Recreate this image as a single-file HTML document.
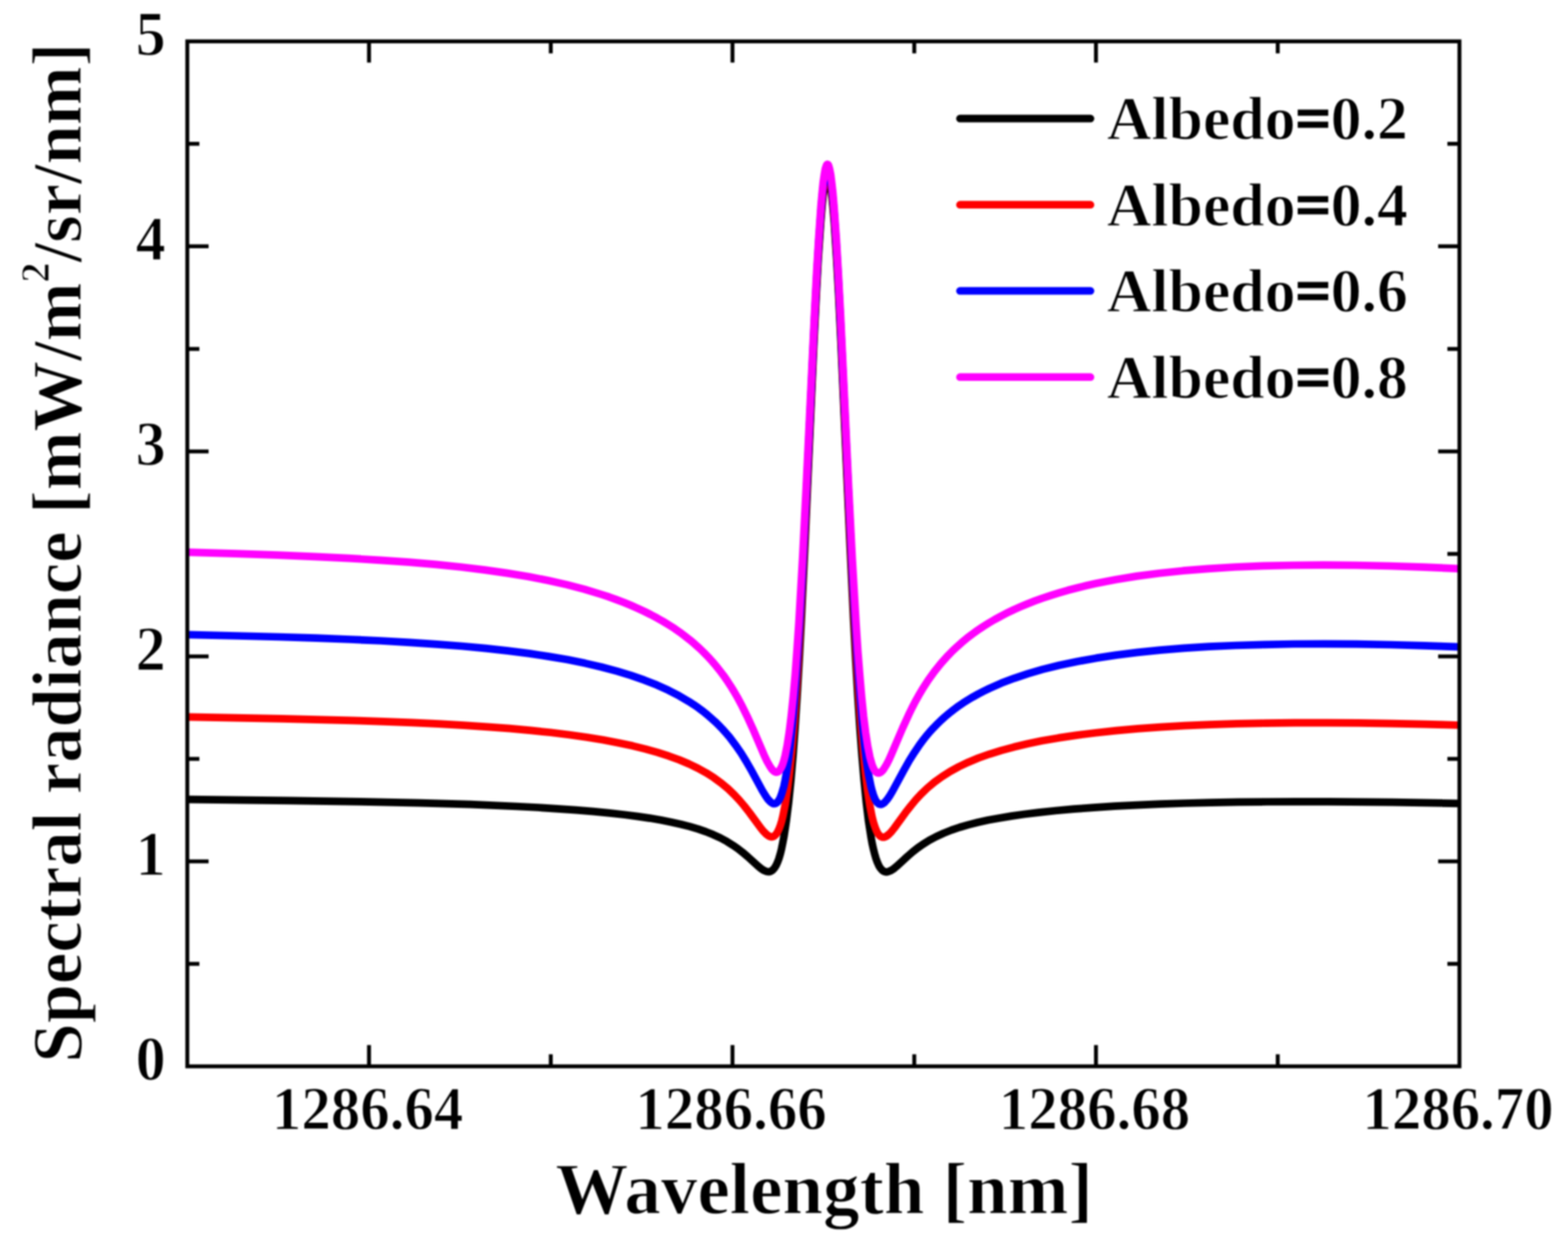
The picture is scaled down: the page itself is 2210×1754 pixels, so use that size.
<!DOCTYPE html>
<html><head><meta charset="utf-8"><title>Spectral radiance vs wavelength</title>
<style>html,body{margin:0;padding:0;background:#fff;overflow:hidden}svg{display:block;filter:blur(0.9px)}</style>
</head><body>
<svg width="2210" height="1754" viewBox="0 0 2210 1754"><rect width="2210" height="1754" fill="#fff"/><path d="M520.1 1503.5V1473.5M520.1 58.3V88.3M776.3 1503.5V1486.5M776.3 58.3V75.3M1032.4 1503.5V1473.5M1032.4 58.3V88.3M1288.6 1503.5V1486.5M1288.6 58.3V75.3M1544.7 1503.5V1473.5M1544.7 58.3V88.3M1800.9 1503.5V1486.5M1800.9 58.3V75.3M264.0 1359.0H281.0M2057.0 1359.0H2040.0M264.0 1214.5H294.0M2057.0 1214.5H2027.0M264.0 1069.9H281.0M2057.0 1069.9H2040.0M264.0 925.4H294.0M2057.0 925.4H2027.0M264.0 780.9H281.0M2057.0 780.9H2040.0M264.0 636.4H294.0M2057.0 636.4H2027.0M264.0 491.9H281.0M2057.0 491.9H2040.0M264.0 347.3H294.0M2057.0 347.3H2027.0M264.0 202.8H281.0M2057.0 202.8H2040.0" stroke="#000" stroke-width="5.5" fill="none"/><path d="M264.0 1127.1 L409.8 1128.8 L508.2 1130.3 L591.8 1132.1 L663.0 1134.2 L728.2 1137.0 L758.0 1138.5 L785.8 1140.3 L811.8 1142.1 L836.2 1144.2 L859.2 1146.4 L880.5 1148.8 L898.8 1151.1 L915.8 1153.6 L931.5 1156.3 L946.2 1159.2 L959.8 1162.2 L972.2 1165.4 L984.0 1168.9 L994.8 1172.6 L1005.2 1176.8 L1015.2 1181.4 L1024.5 1186.4 L1033.2 1191.9 L1040.0 1196.6 L1046.5 1201.7 L1053.8 1207.9 L1068.8 1221.5 L1072.8 1224.7 L1076.2 1227.0 L1080.0 1228.6 L1081.8 1229.0 L1083.5 1229.1 L1085.0 1228.9 L1086.5 1228.4 L1088.0 1227.5 L1089.5 1226.3 L1091.8 1223.6 L1093.8 1220.3 L1095.8 1216.0 L1097.8 1210.6 L1099.8 1203.9 L1101.5 1196.9 L1103.2 1188.7 L1105.0 1179.2 L1108.2 1158.0 L1111.5 1131.6 L1114.8 1099.3 L1117.8 1064.0 L1120.5 1026.8 L1123.5 980.9 L1126.5 929.4 L1129.5 872.8 L1135.0 757.7 L1147.2 482.4 L1150.5 416.3 L1153.2 366.4 L1156.8 313.5 L1158.5 292.3 L1160.0 277.3 L1161.8 263.6 L1163.2 255.3 L1164.8 250.2 L1165.5 249.0 L1166.2 248.5 L1167.0 248.9 L1167.8 250.1 L1169.2 255.1 L1170.8 263.3 L1172.5 276.9 L1174.0 291.9 L1175.8 313.0 L1179.2 365.7 L1182.0 415.6 L1185.2 481.6 L1197.5 757.1 L1203.0 872.4 L1206.0 929.2 L1209.0 980.7 L1212.0 1026.8 L1214.8 1064.1 L1217.8 1099.4 L1221.0 1131.8 L1224.2 1158.3 L1227.5 1179.5 L1229.2 1189.0 L1231.0 1197.2 L1232.8 1204.2 L1234.5 1210.1 L1236.5 1215.7 L1238.5 1220.2 L1240.5 1223.6 L1242.8 1226.3 L1244.2 1227.6 L1245.8 1228.5 L1247.2 1229.1 L1248.8 1229.4 L1250.5 1229.3 L1252.2 1228.9 L1256.0 1227.3 L1259.5 1225.0 L1263.5 1221.7 L1279.0 1207.5 L1286.5 1201.0 L1293.5 1195.5 L1300.5 1190.6 L1309.8 1184.8 L1319.5 1179.6 L1329.8 1174.9 L1341.0 1170.4 L1352.5 1166.5 L1365.0 1162.9 L1378.2 1159.5 L1392.8 1156.3 L1408.5 1153.4 L1425.5 1150.6 L1443.8 1148.0 L1463.5 1145.6 L1487.8 1143.0 L1513.8 1140.7 L1541.5 1138.6 L1571.0 1136.7 L1602.2 1135.1 L1635.2 1133.7 L1670.0 1132.5 L1706.8 1131.6 L1745.5 1130.9 L1785.8 1130.5 L1827.8 1130.3 L1871.5 1130.3 L1962.5 1131.1 L2057.0 1132.8" fill="none" stroke="#000000" stroke-width="10.7" stroke-linejoin="round"/>
<path d="M264.0 1010.9 L397.0 1013.4 L496.8 1015.9 L540.8 1017.3 L581.0 1018.9 L618.5 1020.7 L653.5 1022.6 L687.0 1024.8 L718.5 1027.2 L748.2 1029.9 L776.0 1032.8 L802.2 1036.0 L827.0 1039.5 L850.2 1043.3 L872.0 1047.4 L891.5 1051.6 L909.8 1056.1 L926.8 1060.9 L942.5 1065.9 L957.2 1071.3 L970.8 1077.0 L983.5 1083.1 L995.2 1089.6 L1006.2 1096.6 L1016.5 1104.1 L1026.2 1112.2 L1035.2 1120.9 L1042.2 1128.4 L1049.0 1136.4 L1056.5 1146.0 L1072.0 1167.2 L1076.2 1172.3 L1079.8 1175.9 L1083.2 1178.5 L1085.0 1179.4 L1086.5 1179.8 L1088.0 1179.9 L1089.5 1179.6 L1091.0 1178.9 L1092.2 1178.0 L1094.2 1175.8 L1096.2 1172.6 L1098.2 1168.3 L1100.0 1163.4 L1101.8 1157.5 L1103.5 1150.5 L1106.8 1133.9 L1110.0 1112.4 L1113.0 1087.6 L1116.0 1057.7 L1119.0 1022.4 L1121.8 985.0 L1124.5 943.0 L1127.2 896.3 L1130.0 845.3 L1135.5 732.5 L1147.5 468.4 L1150.8 403.8 L1153.5 355.2 L1156.8 307.1 L1158.5 286.2 L1160.0 271.3 L1161.8 257.8 L1163.2 249.6 L1164.8 244.6 L1165.5 243.3 L1166.2 242.9 L1167.0 243.3 L1167.8 244.5 L1169.2 249.4 L1170.8 257.5 L1172.5 271.0 L1174.0 285.8 L1175.8 306.6 L1179.0 354.6 L1181.8 403.2 L1185.0 467.8 L1197.2 737.5 L1202.5 845.2 L1205.5 900.8 L1208.2 947.1 L1211.0 988.8 L1213.8 1025.8 L1216.8 1060.8 L1219.8 1090.3 L1222.8 1114.8 L1226.0 1135.9 L1229.2 1152.2 L1231.0 1159.1 L1232.8 1164.8 L1234.5 1169.5 L1236.2 1173.3 L1238.2 1176.5 L1240.2 1178.6 L1241.5 1179.5 L1243.0 1180.2 L1244.5 1180.5 L1246.0 1180.4 L1247.5 1179.9 L1249.2 1179.1 L1252.8 1176.4 L1256.2 1172.8 L1260.5 1167.5 L1276.2 1145.8 L1283.8 1136.1 L1290.8 1127.7 L1298.0 1119.9 L1307.2 1111.0 L1317.2 1102.6 L1327.8 1095.0 L1339.2 1087.7 L1351.5 1081.0 L1364.8 1074.7 L1379.0 1068.8 L1394.5 1063.3 L1411.2 1058.1 L1429.0 1053.3 L1448.0 1048.8 L1468.2 1044.6 L1492.0 1040.4 L1517.5 1036.6 L1544.5 1033.2 L1573.2 1030.1 L1603.8 1027.4 L1635.8 1025.1 L1669.8 1023.2 L1705.5 1021.6 L1743.5 1020.4 L1783.5 1019.6 L1825.2 1019.1 L1868.8 1019.1 L1914.0 1019.4 L1960.5 1020.1 L2008.2 1021.1 L2057.0 1022.5" fill="none" stroke="#ff0000" stroke-width="10.7" stroke-linejoin="round"/>
<path d="M264.0 894.8 L334.0 896.5 L393.0 898.0 L445.5 899.7 L493.0 901.5 L537.0 903.5 L577.8 905.8 L615.5 908.3 L650.8 911.0 L684.5 914.2 L716.0 917.6 L745.8 921.4 L773.5 925.6 L799.8 930.1 L824.5 935.1 L847.8 940.5 L869.8 946.4 L889.5 952.4 L908.2 958.9 L925.8 965.8 L942.0 973.2 L957.2 981.1 L971.2 989.3 L978.0 993.7 L984.5 998.2 L990.8 1002.9 L996.8 1007.7 L1007.8 1017.4 L1013.0 1022.5 L1018.2 1027.9 L1023.2 1033.5 L1028.0 1039.1 L1037.2 1051.2 L1044.5 1061.8 L1051.5 1073.1 L1059.0 1086.2 L1074.5 1114.7 L1078.8 1121.7 L1082.2 1126.7 L1085.8 1130.5 L1087.2 1131.7 L1088.8 1132.6 L1090.2 1133.1 L1091.8 1133.2 L1093.2 1132.8 L1094.5 1132.1 L1096.2 1130.5 L1098.0 1128.0 L1099.8 1124.5 L1101.5 1120.0 L1103.2 1114.4 L1104.8 1108.6 L1106.5 1100.6 L1108.0 1092.6 L1111.0 1073.3 L1114.0 1049.1 L1117.0 1019.7 L1119.8 987.9 L1122.5 951.3 L1125.2 909.9 L1128.0 863.9 L1130.8 813.7 L1136.0 707.7 L1147.5 459.7 L1150.8 396.0 L1153.5 348.1 L1156.8 300.7 L1158.5 280.0 L1160.0 265.4 L1161.8 252.0 L1163.2 243.9 L1164.8 238.9 L1165.5 237.7 L1166.2 237.3 L1167.0 237.7 L1167.8 238.9 L1169.2 243.7 L1170.8 251.8 L1172.5 265.1 L1174.0 279.7 L1175.8 300.3 L1179.0 347.7 L1181.8 395.6 L1185.0 459.2 L1196.8 712.8 L1202.0 818.5 L1204.8 868.5 L1207.5 914.2 L1210.2 955.3 L1212.8 988.4 L1215.5 1020.4 L1218.5 1049.9 L1221.2 1072.3 L1224.2 1092.1 L1227.5 1108.5 L1229.0 1114.4 L1230.8 1120.2 L1232.5 1124.9 L1234.2 1128.5 L1236.0 1131.1 L1237.8 1132.9 L1239.0 1133.7 L1240.5 1134.1 L1242.0 1134.1 L1243.5 1133.6 L1245.0 1132.8 L1246.5 1131.7 L1250.0 1127.8 L1253.5 1122.9 L1257.8 1115.8 L1273.8 1086.2 L1281.5 1072.5 L1288.8 1060.9 L1296.0 1050.2 L1300.8 1043.8 L1305.5 1037.8 L1310.5 1031.9 L1315.5 1026.4 L1320.8 1021.0 L1326.2 1015.7 L1332.0 1010.5 L1337.8 1005.6 L1344.0 1000.7 L1350.5 995.9 L1357.2 991.3 L1364.0 987.0 L1371.2 982.7 L1378.8 978.5 L1386.5 974.5 L1394.5 970.6 L1411.5 963.1 L1429.5 956.3 L1448.8 949.9 L1469.2 943.9 L1493.0 938.0 L1518.2 932.7 L1545.0 927.9 L1573.2 923.6 L1603.2 919.9 L1635.0 916.6 L1668.5 913.9 L1704.0 911.7 L1742.0 910.0 L1781.8 908.8 L1823.5 908.0 L1867.0 907.9 L1912.2 908.2 L1959.2 909.0 L2007.5 910.4 L2057.0 912.2" fill="none" stroke="#0000ff" stroke-width="10.7" stroke-linejoin="round"/>
<path d="M264.0 778.7 L332.5 780.7 L391.2 782.7 L443.8 784.8 L491.5 787.2 L535.8 789.8 L576.5 792.7 L614.5 795.9 L649.8 799.5 L683.5 803.6 L715.0 808.1 L744.8 813.0 L772.8 818.5 L799.0 824.4 L823.8 830.9 L847.2 838.0 L858.5 841.7 L869.2 845.6 L879.5 849.5 L889.2 853.5 L899.0 857.8 L908.2 862.1 L917.2 866.6 L926.0 871.3 L934.5 876.1 L942.5 881.0 L950.5 886.1 L958.0 891.3 L965.2 896.7 L972.2 902.2 L979.0 907.9 L985.8 914.0 L992.0 920.0 L998.2 926.4 L1003.8 932.5 L1009.2 938.9 L1014.5 945.5 L1019.8 952.4 L1024.8 959.6 L1029.5 966.8 L1034.2 974.4 L1039.0 982.6 L1046.2 996.1 L1053.2 1010.3 L1060.8 1026.9 L1077.0 1064.7 L1081.2 1073.6 L1084.8 1079.9 L1088.2 1084.9 L1089.8 1086.5 L1091.2 1087.7 L1092.8 1088.5 L1094.0 1088.8 L1095.5 1088.6 L1096.8 1088.1 L1098.5 1086.5 L1100.2 1084.0 L1102.0 1080.5 L1103.5 1076.5 L1105.0 1071.7 L1106.5 1065.9 L1109.5 1051.0 L1112.5 1031.6 L1115.2 1009.4 L1118.0 982.6 L1120.8 951.1 L1123.2 918.3 L1126.0 877.6 L1131.2 787.3 L1136.2 688.6 L1147.8 445.9 L1151.0 383.8 L1153.8 337.1 L1157.0 291.2 L1158.8 271.3 L1160.2 257.3 L1161.8 246.2 L1163.2 238.2 L1164.8 233.3 L1165.5 232.1 L1166.2 231.7 L1167.0 232.0 L1167.8 233.2 L1169.2 238.0 L1170.8 246.0 L1172.2 257.0 L1173.8 271.0 L1175.5 290.8 L1178.8 336.7 L1181.5 383.4 L1184.8 445.6 L1196.2 688.7 L1201.2 787.6 L1206.5 878.2 L1209.2 919.0 L1211.8 951.9 L1214.5 983.5 L1217.2 1010.4 L1220.0 1032.7 L1223.0 1052.2 L1226.0 1067.1 L1227.5 1072.9 L1229.0 1077.8 L1230.5 1081.8 L1232.2 1085.3 L1234.0 1087.8 L1235.8 1089.3 L1237.2 1089.9 L1238.8 1090.0 L1240.2 1089.5 L1242.0 1088.4 L1243.8 1086.7 L1245.5 1084.5 L1249.5 1078.0 L1252.8 1071.6 L1256.2 1064.0 L1272.2 1026.5 L1280.8 1007.7 L1285.5 998.0 L1290.2 988.9 L1295.0 980.3 L1299.8 972.2 L1308.0 959.3 L1316.8 947.1 L1326.0 935.6 L1335.8 924.7 L1342.2 918.1 L1348.8 911.9 L1355.5 905.9 L1362.5 900.1 L1369.8 894.5 L1377.5 888.9 L1385.2 883.7 L1393.5 878.5 L1402.0 873.5 L1410.8 868.7 L1419.8 864.1 L1429.0 859.6 L1438.5 855.4 L1448.5 851.2 L1458.5 847.3 L1469.0 843.5 L1480.8 839.6 L1492.8 835.9 L1505.0 832.3 L1517.8 829.0 L1530.8 825.8 L1544.2 822.8 L1558.2 819.9 L1572.5 817.2 L1602.2 812.4 L1634.0 808.2 L1667.5 804.7 L1702.8 801.8 L1740.5 799.5 L1780.2 797.9 L1822.0 797.0 L1865.5 796.6 L1911.0 797.0 L1958.2 798.0 L2007.0 799.6 L2057.0 801.9" fill="none" stroke="#ff00ff" stroke-width="10.7" stroke-linejoin="round"/><rect x="264.0" y="58.3" width="1793.0" height="1445.2" fill="none" stroke="#000" stroke-width="5.5"/><text transform="translate(233.5,1522.0) scale(0.95,1)" font-family="Liberation Serif, serif" font-weight="bold" stroke="#fff" stroke-width="1.4" font-size="89" text-anchor="end">0</text><text transform="translate(233.5,1233.0) scale(0.95,1)" font-family="Liberation Serif, serif" font-weight="bold" stroke="#fff" stroke-width="1.4" font-size="89" text-anchor="end">1</text><text transform="translate(233.5,943.9) scale(0.95,1)" font-family="Liberation Serif, serif" font-weight="bold" stroke="#fff" stroke-width="1.4" font-size="89" text-anchor="end">2</text><text transform="translate(233.5,654.9) scale(0.95,1)" font-family="Liberation Serif, serif" font-weight="bold" stroke="#fff" stroke-width="1.4" font-size="89" text-anchor="end">3</text><text transform="translate(233.5,365.8) scale(0.95,1)" font-family="Liberation Serif, serif" font-weight="bold" stroke="#fff" stroke-width="1.4" font-size="89" text-anchor="end">4</text><text transform="translate(233.5,76.8) scale(0.95,1)" font-family="Liberation Serif, serif" font-weight="bold" stroke="#fff" stroke-width="1.4" font-size="89" text-anchor="end">5</text><text transform="translate(518.1,1591.8) scale(0.965,1)" font-family="Liberation Serif, serif" font-weight="bold" stroke="#fff" stroke-width="1.4" font-size="86" text-anchor="middle">1286.64</text><text transform="translate(1030.4,1591.8) scale(0.965,1)" font-family="Liberation Serif, serif" font-weight="bold" stroke="#fff" stroke-width="1.4" font-size="86" text-anchor="middle">1286.66</text><text transform="translate(1542.7,1591.8) scale(0.965,1)" font-family="Liberation Serif, serif" font-weight="bold" stroke="#fff" stroke-width="1.4" font-size="86" text-anchor="middle">1286.68</text><text transform="translate(2055.0,1591.8) scale(0.965,1)" font-family="Liberation Serif, serif" font-weight="bold" stroke="#fff" stroke-width="1.4" font-size="86" text-anchor="middle">1286.70</text><text x="1161.5" y="1710.5" font-family="Liberation Serif, serif" font-weight="bold" stroke="#fff" stroke-width="1.4" font-size="102.9" text-anchor="middle">Wavelength [nm]</text><text transform="translate(113.5,779.3) rotate(-90)" font-family="Liberation Serif, serif" font-weight="bold" stroke="#fff" stroke-width="1.4" font-size="99.5" text-anchor="middle">Spectral radiance [mW/m<tspan font-size="57" dy="-45">2</tspan><tspan dy="45">/sr/nm]</tspan></text><line x1="1353" y1="167.2" x2="1537" y2="167.2" stroke="#000000" stroke-width="10.7" stroke-linecap="round"/><text x="1560" y="196.2" font-family="Liberation Serif, serif" font-weight="bold" stroke="#fff" stroke-width="1.4" font-size="87">Albedo<tspan stroke="#000" stroke-width="2.6">=</tspan>0.2</text><line x1="1353" y1="288.7" x2="1537" y2="288.7" stroke="#ff0000" stroke-width="10.7" stroke-linecap="round"/><text x="1560" y="317.7" font-family="Liberation Serif, serif" font-weight="bold" stroke="#fff" stroke-width="1.4" font-size="87">Albedo<tspan stroke="#000" stroke-width="2.6">=</tspan>0.4</text><line x1="1353" y1="410.2" x2="1537" y2="410.2" stroke="#0000ff" stroke-width="10.7" stroke-linecap="round"/><text x="1560" y="439.2" font-family="Liberation Serif, serif" font-weight="bold" stroke="#fff" stroke-width="1.4" font-size="87">Albedo<tspan stroke="#000" stroke-width="2.6">=</tspan>0.6</text><line x1="1353" y1="531.7" x2="1537" y2="531.7" stroke="#ff00ff" stroke-width="10.7" stroke-linecap="round"/><text x="1560" y="560.7" font-family="Liberation Serif, serif" font-weight="bold" stroke="#fff" stroke-width="1.4" font-size="87">Albedo<tspan stroke="#000" stroke-width="2.6">=</tspan>0.8</text></svg>
</body></html>
